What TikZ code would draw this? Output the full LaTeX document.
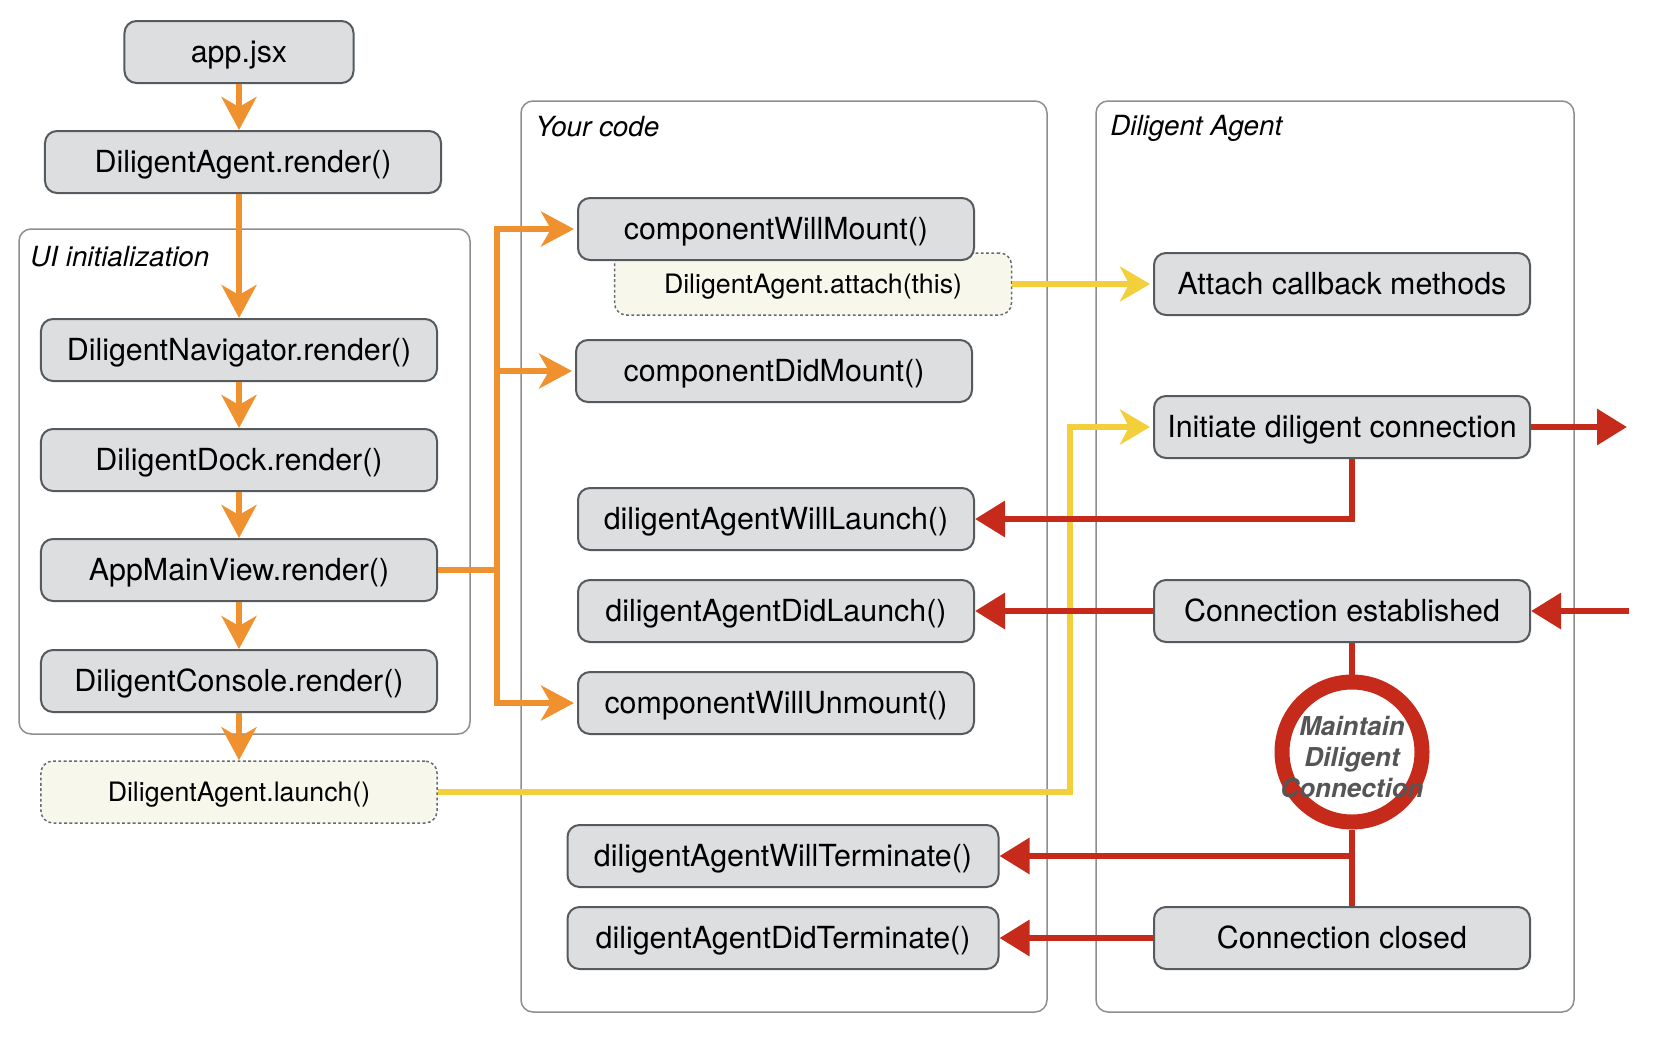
\documentclass[tikz,border=0pt]{standalone}
\usepackage{fontspec}
\setmainfont{TeX Gyre Heros}
\usetikzlibrary{arrows.meta}
\usepackage{xcolor}
\definecolor{boxfill}{HTML}{DDDEE0}
\definecolor{boxline}{HTML}{555A5F}
\definecolor{notefill}{HTML}{F7F7EC}
\definecolor{groupline}{HTML}{8E8E8E}
\definecolor{flowor}{HTML}{F0912F}
\definecolor{flowred}{HTML}{C62A1A}
\definecolor{flowyel}{HTML}{F2CF3B}
\definecolor{ringtext}{HTML}{555555}

\begin{document}
\begin{tikzpicture}[x=0.2mm,y=-0.2mm]
    \tikzset{
        box/.style={draw=boxline,fill=boxfill,line width=0.4mm,rounded corners=2.4mm,
            minimum width=79.2mm,minimum height=12.4mm,inner sep=0pt,
            text height=12.4pt,text depth=0pt,
            font=\fontsize{17.3}{20}\selectfont},
        notebox/.style={box,fill=notefill,draw=boxline!90,line width=0.3mm,
            dash pattern=on 1.6pt off 1.4pt,text height=10.4pt,
            font=\fontsize{15.2}{18}\selectfont},
        group/.style={draw=groupline,line width=0.3mm,rounded corners=2.4mm},
        grouplabel/.style={anchor=west,inner sep=0pt,font=\fontsize{15.8}{18}\selectfont\itshape},
        orangearrow/.style={draw=flowor,line width=1.28mm,
            -{Stealth[length=6.6mm,width=7mm,inset=2mm]}},
        yellowarrow/.style={draw=flowyel,line width=1.28mm,
            -{Stealth[length=6mm,width=7mm,inset=1.8mm]}},
        redarrow/.style={draw=flowred,line width=1.28mm,
            -{Triangle[length=6mm,width=7mm]}},
        redline/.style={draw=flowred,line width=1.28mm},
        ring/.style={circle,draw=flowred,fill=white,line width=3mm,minimum size=28mm,
            inner sep=0pt},
        ringlabel/.style={text=ringtext,align=center,inner sep=0pt,
            font=\fontsize{14.8}{17.6}\selectfont\bfseries\itshape}
    }
    \useasboundingbox (0,0) rectangle (1670,1040);
    % groups
    \draw[group] (19,229) rectangle (470,734);
    \node[grouplabel] (uilabel) at (30,257) {UI initialization};
    \draw[group] (521,101) rectangle (1047,1012);
    \node[grouplabel] (codelabel) at (535,127) {Your code};
    \draw[group] (1096,101) rectangle (1574,1012);
    \node[grouplabel] (agentlabel) at (1110,128) {Diligent Agent};
    % left column
    \node[box,minimum width=45.8mm] (app) at (239,52) {app.jsx};
    \node[box] (darender) at (243,162) {DiligentAgent.render()};
    \node[box] (nav) at (239,350) {DiligentNavigator.render()};
    \node[box] (dock) at (239,460) {DiligentDock.render()};
    \node[box] (mainview) at (239,570) {AppMainView.render()};
    \node[box] (console) at (239,681) {DiligentConsole.render()};
    \node[notebox] (launch) at (239,792) {DiligentAgent.launch()};
    % your code
    \node[notebox,minimum width=79.4mm] (attach) at (813,284) {DiligentAgent.attach(this)};
    \node[box] (cwm) at (776,229) {componentWillMount()};
    \node[box] (cdm) at (774,371) {componentDidMount()};
    \node[box] (willlaunch) at (776,519) {diligentAgentWillLaunch()};
    \node[box] (didlaunch) at (776,611) {diligentAgentDidLaunch()};
    \node[box] (cwu) at (776,703) {componentWillUnmount()};
    \node[box,minimum width=86.2mm] (willterm) at (783,856) {diligentAgentWillTerminate()};
    \node[box,minimum width=86.2mm] (didterm) at (783,938) {diligentAgentDidTerminate()};
    % diligent agent
    \node[box,minimum width=75.2mm] (cbk) at (1342,284) {Attach callback methods};
    \node[box,minimum width=75.2mm] (initiate) at (1342,427) {Initiate diligent connection};
    \node[box,minimum width=75.2mm] (established) at (1342,611) {Connection established};
    \node[box,minimum width=75.2mm] (closed) at (1342,938) {Connection closed};
    % free ends
    \coordinate (fork) at (497,570);
    \coordinate (ybend) at (1070,792);
    \coordinate (outR) at (1627,427);
    \coordinate (inR) at (1629,611);
    % orange flow
    \draw[orangearrow] (app) -- (app |- darender.north);
    \draw[orangearrow] (darender.south -| nav) -- (nav);
    \draw[orangearrow] (nav) -- (dock);
    \draw[orangearrow] (dock) -- (mainview);
    \draw[orangearrow] (mainview) -- (console);
    \draw[orangearrow] (console) -- (launch);
    \draw[draw=flowor,line width=1.28mm] (mainview.east) -- (fork);
    \draw[orangearrow,shorten >=0.6mm] (fork) |- (cwm.west);
    \draw[orangearrow,shorten >=0.6mm] (fork) |- (cdm.west);
    \draw[orangearrow,shorten >=0.6mm] (fork) |- (cwu.west);
    % yellow flow
    \draw[yellowarrow,shorten >=0.6mm] (attach) -- (cbk);
    \draw[yellowarrow,shorten >=0.6mm] (launch.east) -- (ybend) |- (initiate.west);
    % red flow
    \node[ring] (ring) at (1352,752) {};
    \node[ringlabel] (ringtxt) at (1352,757) {Maintain\\Diligent\\Connection};
    \draw[redarrow] (initiate) -- (outR);
    \draw[redarrow] (inR) -- (established);
    \draw[redarrow] (initiate.south -| ring) |- (willlaunch.east);
    \draw[redarrow] (established) -- (didlaunch);
    \draw[redline] (established.south -| ring) -- (ring);
    \draw[redline] (ring) -- (closed.north -| ring);
    \draw[redarrow] (ring |- willterm) -- (willterm.east);
    \draw[redarrow] (closed) -- (didterm);
\end{tikzpicture}
\end{document}
